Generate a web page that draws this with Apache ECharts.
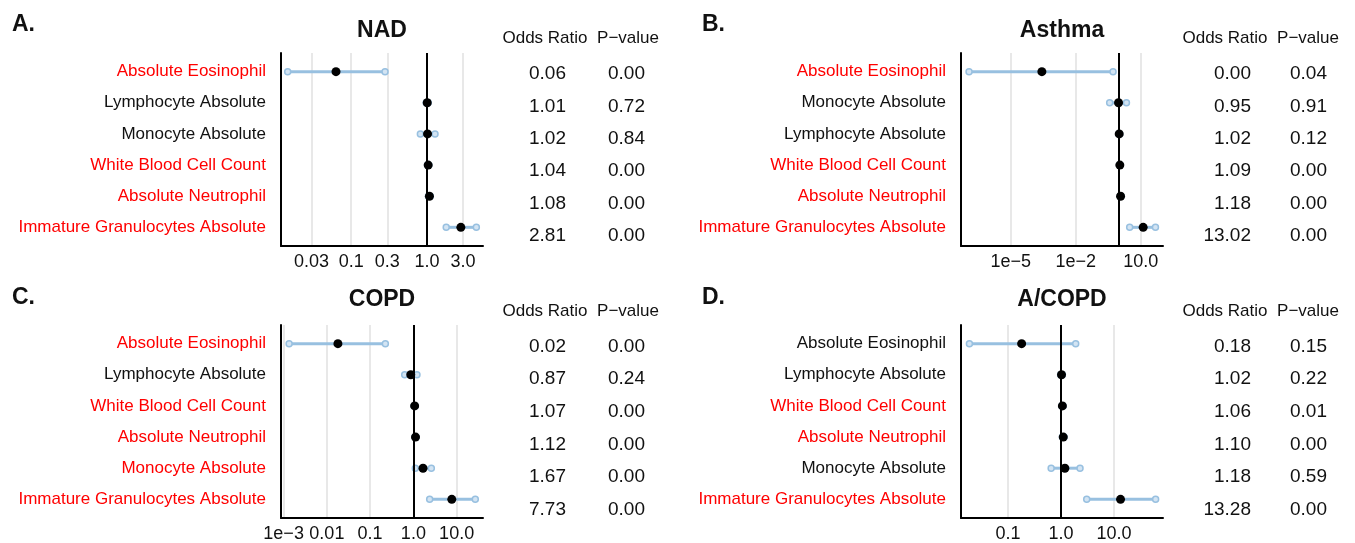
<!DOCTYPE html>
<html>
<head>
<meta charset="utf-8">
<script src="https://cdn.jsdelivr.net/npm/echarts@6/dist/echarts.min.js"></script>
<style>
html,body{margin:0;padding:0;background:#fff;}
#chart{width:1355px;height:543px;}
</style>
</head>
<body>
<div id="chart"></div>
<script>
// A. NAD
const namesNAD = ['Absolute Eosinophil','Lymphocyte Absolute','Monocyte Absolute','White Blood Cell Count','Absolute Neutrophil','Immature Granulocytes Absolute'];
const sigNAD = [1,0,0,1,1,1];
const orNAD = [0.063,1.01,1.02,1.04,1.08,2.81];
const loNAD = [0.0145,0.98,0.82,1.02,1.05,1.80];
const hiNAD = [0.28,1.04,1.28,1.06,1.11,4.50];
const orTextNAD = ['0.06','1.01','1.02','1.04','1.08','2.81'];
const pTextNAD = ['0.00','0.72','0.84','0.00','0.00','0.00'];
const ticksNAD = [0.03,0.1,0.3,1,3];
const tickLabelsNAD = ['0.03','0.1','0.3','1.0','3.0'];
const limitsNAD = [0.01183,5.51];

// B. Asthma
const namesAsthma = ['Absolute Eosinophil','Monocyte Absolute','Lymphocyte Absolute','White Blood Cell Count','Absolute Neutrophil','Immature Granulocytes Absolute'];
const sigAsthma = [1,0,0,1,1,1];
const orAsthma = [0.000275,0.95,1.02,1.09,1.18,13.02];
const loAsthma = [0.00000012,0.37,0.97,1.05,1.13,3.1];
const hiAsthma = [0.53,2.2,1.07,1.13,1.23,48];
const orTextAsthma = ['0.00','0.95','1.02','1.09','1.18','13.02'];
const pTextAsthma = ['0.04','0.91','0.12','0.00','0.00','0.00'];
const ticksAsthma = [1e-5,1e-2,10];
const tickLabelsAsthma = ['1e\u22125','1e\u22122','10.0'];
const limitsAsthma = [5.1e-8,107];

// C. COPD
const namesCOPD = ['Absolute Eosinophil','Lymphocyte Absolute','White Blood Cell Count','Absolute Neutrophil','Monocyte Absolute','Immature Granulocytes Absolute'];
const sigCOPD = [1,0,1,1,1,1];
const orCOPD = [0.018,0.87,1.07,1.12,1.67,7.73];
const loCOPD = [0.00134,0.63,1.04,1.08,1.11,2.38];
const hiCOPD = [0.225,1.21,1.10,1.16,2.6,27];
const orTextCOPD = ['0.02','0.87','1.07','1.12','1.67','7.73'];
const pTextCOPD = ['0.00','0.24','0.00','0.00','0.00','0.00'];
const ticksCOPD = [0.001,0.01,0.1,1,10];
const tickLabelsCOPD = ['1e\u22123','0.01','0.1','1.0','10.0'];
const limitsCOPD = [0.00087,40.7];

// D. A/COPD
const namesACOPD = ['Absolute Eosinophil','Lymphocyte Absolute','White Blood Cell Count','Absolute Neutrophil','Monocyte Absolute','Immature Granulocytes Absolute'];
const sigACOPD = [0,0,1,1,0,1];
const orACOPD = [0.18,1.02,1.06,1.10,1.18,13.28];
const loACOPD = [0.0186,0.98,1.03,1.06,0.65,3.05];
const hiACOPD = [1.89,1.06,1.09,1.14,2.28,61];
const orTextACOPD = ['0.18','1.02','1.06','1.10','1.18','13.28'];
const pTextACOPD = ['0.15','0.22','0.01','0.00','0.59','0.00'];
const ticksACOPD = [0.1,1,10];
const tickLabelsACOPD = ['0.1','1.0','10.0'];
const limitsACOPD = [0.0129,84.1];

const FONT = '"Liberation Sans", Helvetica, Arial, sans-serif';
const CI_COLOR = '#98c0e0';
const INK = '#111';
const LOG = v => Math.log10(v);

const panels = [
    {title:'NAD', letter:'A.', names:namesNAD, sig:sigNAD, or:orNAD, lo:loNAD, hi:hiNAD, orText:orTextNAD, pText:pTextNAD,
     ticks:ticksNAD, tickLabels:tickLabelsNAD, limits:limitsNAD,
     plot:[281,53,202,193], table:[58,194], orCol:566, pCol:645, head:[545,628,38], titlePos:[382,31], letterPos:[12,25]},
    {title:'Asthma', letter:'B.', names:namesAsthma, sig:sigAsthma, or:orAsthma, lo:loAsthma, hi:hiAsthma, orText:orTextAsthma, pText:pTextAsthma,
     ticks:ticksAsthma, tickLabels:tickLabelsAsthma, limits:limitsAsthma,
     plot:[961,53,202,193], table:[58,194], orCol:1251, pCol:1327, head:[1225,1308,38], titlePos:[1062,31], letterPos:[702,25]},
    {title:'COPD', letter:'C.', names:namesCOPD, sig:sigCOPD, or:orCOPD, lo:loCOPD, hi:hiCOPD, orText:orTextCOPD, pText:pTextCOPD,
     ticks:ticksCOPD, tickLabels:tickLabelsCOPD, limits:limitsCOPD,
     plot:[281,325,202,193], table:[330,196], orCol:566, pCol:645, head:[545,628,311], titlePos:[382,300], letterPos:[12,298]},
    {title:'A/COPD', letter:'D.', names:namesACOPD, sig:sigACOPD, or:orACOPD, lo:loACOPD, hi:hiACOPD, orText:orTextACOPD, pText:pTextACOPD,
     ticks:ticksACOPD, tickLabels:tickLabelsACOPD, limits:limitsACOPD,
     plot:[961,325,202,193], table:[330,196], orCol:1251, pCol:1327, head:[1225,1308,311], titlePos:[1062,300], letterPos:[702,298]}
];

function ciItem(params, api){
    const y = api.value(2);
    const a = api.coord([api.value(0), y]);
    const b = api.coord([api.value(1), y]);
    const dot = c => ({type:'circle', shape:{cx:c[0], cy:c[1], r:3}, style:{fill:'#d3e4f3', stroke:CI_COLOR, lineWidth:1.5}});
    return {type:'group', children:[
        {type:'line', shape:{x1:a[0], y1:a[1], x2:b[0], y2:b[1]}, style:{stroke:CI_COLOR, lineWidth:3}},
        dot(a), dot(b)
    ]};
}

function txt(x, y, text, font, align){
    return {type:'text', x:x, y:y, style:{text:text, font:font, fill:INK, align:align, verticalAlign:'middle', textAlign:align, textVerticalAlign:'middle'}};
}

const grids = [], xAxes = [], yAxes = [], series = [], graphics = [];

panels.forEach(p => {
    const gi = grids.length;
    const tv = p.ticks.map(LOG);
    const rows = p.names.map((_, i) => i + 1);
    grids.push({left:p.plot[0], top:p.plot[1], width:p.plot[2], height:p.plot[3]});
    xAxes.push({
        gridIndex:gi, type:'value', min:LOG(p.limits[0]), max:LOG(p.limits[1]),
        axisLine:{show:true, onZero:false, lineStyle:{color:'#000', width:2}},
        axisTick:{show:false, customValues:tv},
        axisLabel:{customValues:tv, fontSize:18, color:INK, margin:7, fontFamily:FONT,
            formatter: v => {
                let best = 0;
                tv.forEach((t, i) => { if (Math.abs(t - v) < Math.abs(tv[best] - v)) best = i; });
                return p.tickLabels[best];
            }},
        splitLine:{show:true, lineStyle:{color:'#e0e0e0', width:1.5}}
    });
    yAxes.push({
        gridIndex:gi, type:'value', inverse:true, min:0.4, max:6.6,
        axisLine:{show:true, onZero:false, lineStyle:{color:'#000', width:2}},
        axisTick:{show:false, customValues:rows},
        axisLabel:{customValues:rows, fontSize:17, margin:15, fontFamily:FONT,
            formatter: v => p.names[Math.round(v) - 1],
            color: v => p.sig[Math.round(Number(v)) - 1] ? '#ff0000' : INK},
        splitLine:{show:false}
    });
    series.push({
        type:'custom', xAxisIndex:gi, yAxisIndex:gi, renderItem:ciItem, z:3, silent:true,
        encode:{x:[0,1], y:2},
        data:p.lo.map((lo, i) => [LOG(lo), LOG(p.hi[i]), i + 1]),
        markLine:{silent:true, symbol:'none', label:{show:false}, animation:false,
            lineStyle:{color:'#000', width:2, type:'solid', opacity:1}, data:[{xAxis:0}]}
    });
    series.push({
        type:'scatter', xAxisIndex:gi, yAxisIndex:gi, symbolSize:9, z:5, silent:true,
        itemStyle:{color:'#000', opacity:1},
        data:p.or.map((v, i) => [LOG(v), i + 1])
    });
    // table columns: odds ratio and p-value
    [[p.orCol, p.orText], [p.pCol, p.pText]].forEach(([x, labels]) => {
        const ti = grids.length;
        grids.push({left:x, top:p.table[0], width:10, height:p.table[1]});
        xAxes.push({gridIndex:ti, type:'value', show:false, min:0, max:1});
        yAxes.push({gridIndex:ti, type:'category', inverse:true, data:labels,
            axisLine:{show:false}, axisTick:{show:false}, splitLine:{show:false},
            axisLabel:{margin:0, fontSize:19, color:INK, fontFamily:FONT}});
    });
    graphics.push(txt(p.letterPos[0], p.letterPos[1], p.letter, 'bold 23px ' + FONT, 'left'));
    graphics.push(txt(p.titlePos[0], p.titlePos[1], p.title, 'bold 23px ' + FONT, 'center'));
    graphics.push(txt(p.head[0], p.head[2], 'Odds Ratio', '17px ' + FONT, 'center'));
    graphics.push(txt(p.head[1], p.head[2], 'P\u2212value', '17px ' + FONT, 'center'));
});

const chart = echarts.init(document.getElementById('chart'));
chart.setOption({
    animation:false,
    backgroundColor:'#fff',
    grid:grids,
    xAxis:xAxes,
    yAxis:yAxes,
    series:series,
    graphic:graphics
});
</script>
</body>
</html>
